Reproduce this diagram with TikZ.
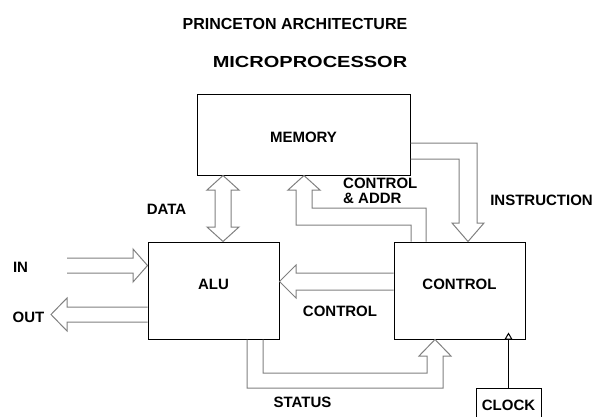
\documentclass[tikz,border=0pt]{standalone}
\usepackage{fontspec}
\setmainfont{Liberation Sans}
\usepackage{graphicx}
\usetikzlibrary{arrows.meta,positioning,calc}
\definecolor{busgray}{RGB}{128,128,128}
\tikzstyle{unit} = [rectangle, draw=black, line width=1pt, minimum width=131pt, minimum height=97pt, text centered, text depth=12pt, font=\fontsize{15}{15}\selectfont\bfseries]
\tikzstyle{bus} = [draw=busgray, line width=1pt, line join=miter]
\tikzstyle{tag} = [inner sep=0pt, font=\fontsize{15}{15}\selectfont\bfseries]
\tikzstyle{clk} = [draw=black, line width=1pt, -{Triangle[open,length=7pt,width=8pt]}]

\begin{document}
\begin{tikzpicture}[x=1pt,y=-1pt]
\useasboundingbox (0,0) rectangle (603,416);
\node[tag, font=\fontsize{16}{16}\selectfont\bfseries] (title) at (295,23.5) {PRINCETON ARCHITECTURE};
\node[tag, font=\fontsize{16}{16}\selectfont\bfseries] (subtitle) at (310,61.5) {\scalebox{1.25}[1]{MICROPROCESSOR}};

\node[unit, minimum width=213pt, minimum height=81pt, text depth=0pt, text height=16.7pt] (memory) at (303.5,134.5) {MEMORY};
\node[unit] (alu) at (213.5,290.5) {ALU};
\node[unit] (control) at (459.5,290.5) {CONTROL};
\node[unit, minimum width=65pt, minimum height=34pt, text depth=0pt] (clock) at (508.5,405) {CLOCK};

% data bus
\draw[bus] (223,0 |- memory.south) -- (239,190) -- (231,190) -- (231,227) -- (239,227) -- (223,0 |- alu.north)
  -- (207,227) -- (215,227) -- (215,190) -- (207,190) -- cycle;
% control and address bus
\draw[bus] (426,0 |- control.north) -- (426,208) -- (312,208) -- (312,190) -- (320,190) -- (304,0 |- memory.south)
  -- (288,190) -- (296,190) -- (296,225) -- (411,225) -- (411,0 |- control.north);
% instruction bus
\draw[bus] (memory.east |- 0,143) -- (477,143) -- (477,223) -- (484,223) -- (468,0 |- control.north)
  -- (452,223) -- (459,223) -- (459,159) -- (memory.east |- 0,159);
% in / out
\draw[bus] (67,258) -- (133,258) -- (133,249) -- (alu.west |- 0,265.5) -- (133,282) -- (133,273) -- (67,273);
\draw[bus] (alu.west |- 0,307) -- (67,307) -- (67,298) -- (51,314.5) -- (67,331) -- (67,322) -- (alu.west |- 0,322);
% control to alu
\draw[bus] (control.west |- 0,273) -- (296,273) -- (296,265) -- (alu.east |- 0,281.5) -- (296,298) -- (296,290) -- (control.west |- 0,290);
% status
\draw[bus] (247,0 |- alu.south) -- (247,388) -- (443,388) -- (443,356) -- (451,356) -- (435,0 |- control.south)
  -- (419,356) -- (427,356) -- (427,373) -- (263,373) -- (263,0 |- alu.south);
% clock
\draw[clk] (clock.north) -- ($(clock.north |- control.south)+(0,-7)$);

\node[tag] (datalbl) at (166.5,209) {DATA};
\node[tag, align=left, anchor=west] (addrlbl) at (343,190.5) {CONTROL\\\& ADDR};
\node[tag] (instrlbl) at (541.5,200) {INSTRUCTION};
\node[tag] (inlbl) at (20.5,267.5) {IN};
\node[tag] (outlbl) at (28.5,317.5) {OUT};
\node[tag] (ctrllbl) at (340,311.5) {CONTROL};
\node[tag] (statuslbl) at (302.5,402) {STATUS};
\end{tikzpicture}
\end{document}
